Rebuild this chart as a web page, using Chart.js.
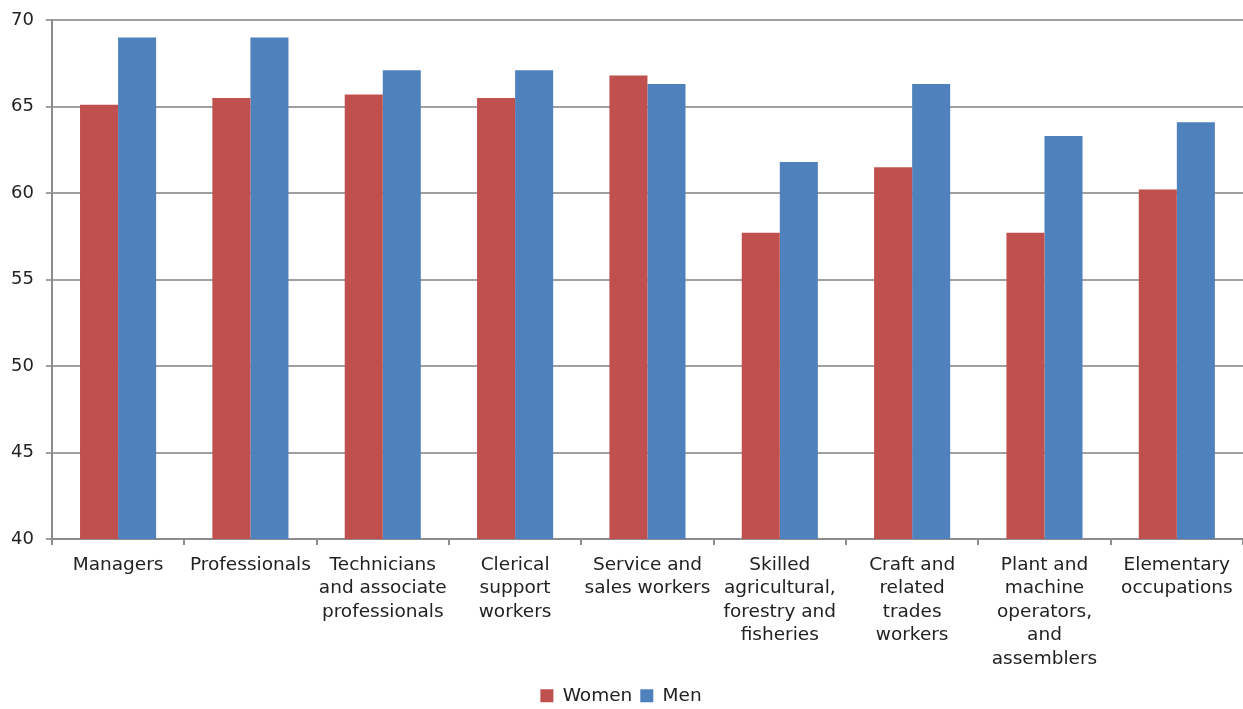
<!DOCTYPE html>
<html>
<head>
<meta charset="utf-8">
<script src="https://cdn.jsdelivr.net/npm/chart.js@4"></script>
<style>
  html, body { margin: 0; padding: 0; background: #fff; }
  #wrap { width: 1243px; height: 709px; position: relative; }
</style>
</head>
<body>
<div id="wrap"><canvas id="chart"></canvas></div>
<script>
// categories (multi-line labels as in the original)
const categories = [
  ["Managers"],
  ["Professionals"],
  ["Technicians", "and associate", "professionals"],
  ["Clerical", "support", "workers"],
  ["Service and", "sales workers"],
  ["Skilled", "agricultural,", "forestry and", "fisheries"],
  ["Craft and", "related", "trades", "workers"],
  ["Plant and", "machine", "operators,", "and", "assemblers"],
  ["Elementary", "occupations"]
];

const women = [65.1, 65.5, 65.7, 65.5, 66.8, 57.7, 61.5, 57.7, 60.2];
const men = [69.0, 69.0, 67.1, 67.1, 66.3, 61.8, 66.3, 63.3, 64.1];

const yTicks = [40, 45, 50, 55, 60, 65, 70];

const FONT = "'DejaVu Sans', Verdana, sans-serif";

new Chart(document.getElementById("chart"), {
  type: "bar",
  data: {
    labels: categories,
    datasets: [
      { label: "Women", data: women, backgroundColor: "#C0504D" },
      { label: "Men", data: men, backgroundColor: "#4F81BD" }
    ]
  },
  options: {
    responsive: true,
    maintainAspectRatio: false,
    animation: false,
    layout: { padding: { top: 4, right: 0, left: -1, bottom: -6 } },
    datasets: {
      bar: { categoryPercentage: 0.575, barPercentage: 1.0 }
    },
    plugins: {
      legend: {
        position: "bottom",
        labels: {
          boxWidth: 13,
          boxHeight: 13,
          padding: 8,
          color: "#222",
          font: { family: FONT, size: 18.5 }
        }
      },
      tooltip: { enabled: false }
    },
    scales: {
      x: {
        grid: {
          drawOnChartArea: false,
          drawTicks: true,
          tickLength: 6,
          color: "#8c8c8c",
          lineWidth: 2
        },
        border: { color: "#8c8c8c", width: 2 },
        ticks: {
          color: "#222",
          maxRotation: 0,
          autoSkip: false,
          padding: 8,
          font: { family: FONT, size: 18.5, lineHeight: 1.27 }
        }
      },
      y: {
        min: 40,
        max: 70,
        afterBuildTicks: axis => {
          axis.ticks = yTicks.map(v => ({ value: v }));
        },
        grid: {
          color: "#a0a0a0",
          lineWidth: 2,
          tickLength: 6
        },
        border: { color: "#8c8c8c", width: 2 },
        ticks: {
          color: "#222",
          padding: 12,
          font: { family: FONT, size: 18, lineHeight: 0.9 }
        }
      }
    }
  }
});
</script>
</body>
</html>
